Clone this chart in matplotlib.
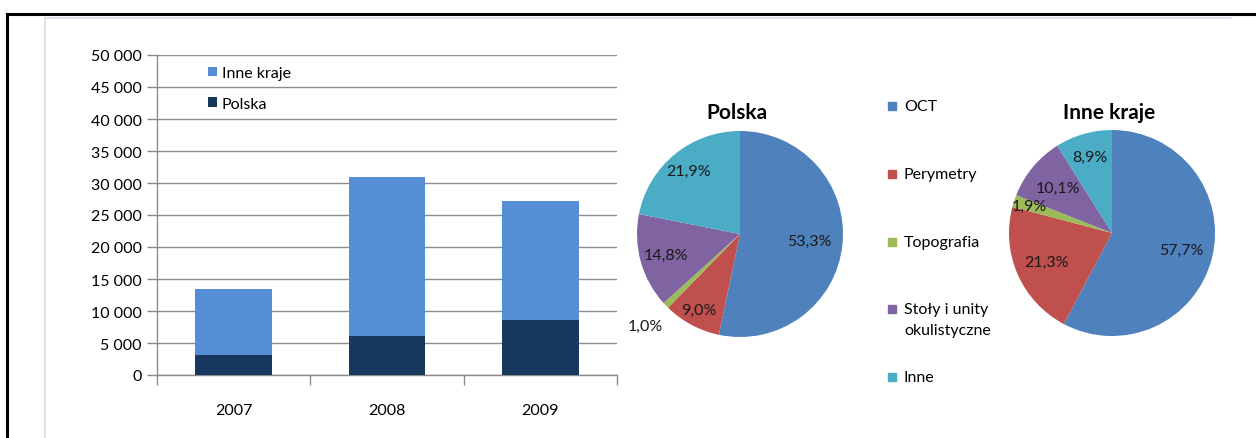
import matplotlib
matplotlib.use("Agg")
import matplotlib.pyplot as plt
from matplotlib.lines import Line2D
from matplotlib.ticker import FuncFormatter, FixedLocator
import numpy as np

plt.rcParams['font.family'] = ['Lato', 'DejaVu Sans']

# ---------------- data ----------------
years = ['2007', '2008', '2009']
polska = [3100, 6100, 8600]
inne_kraje = [10400, 24900, 18600]
bar_series_labels = ['Inne kraje', 'Polska']

pie_categories = ['OCT', 'Perymetry', 'Topografia', 'Stoły i unity\nokulistyczne', 'Inne']
pie_polska = [53.3, 9.0, 1.0, 14.8, 21.9]
pie_inne = [57.7, 21.3, 1.9, 10.1, 8.9]
pie_titles = ['Polska', 'Inne kraje']

# ---------------- style ----------------
W, H = 1256, 439
FS = 11.5
bar_colors = {'Polska': '#17375E', 'Inne kraje': '#558ED5'}
pie_colors = ['#4F81BD', '#C0504D', '#9BBB59', '#8064A2', '#4BACC6']
grid_col = '#8C8C8C'

fig = plt.figure(figsize=(W / 100, H / 100), dpi=100)

def fx(px):
    return px / W

def fy(py):
    return 1 - py / H

# frame lines
fig.add_artist(Line2D([fx(7), 1], [fy(15), fy(15)], color='black', lw=2.2))
fig.add_artist(Line2D([fx(7), fx(7)], [fy(15), 0], color='black', lw=2.2))
fig.add_artist(Line2D([fx(45), fx(1231)], [fy(18.5), fy(18.5)], color='#D5DCEA', lw=1.2))
fig.add_artist(Line2D([fx(45), fx(45)], [fy(18.5), 0], color='#D5DCEA', lw=1.2))

# ---------------- bar chart ----------------
axb = fig.add_axes([fx(157), fy(376), fx(617 - 157), (376 - 56) / H])
x = np.arange(len(years))
b1 = axb.bar(x, polska, width=0.5, color=bar_colors['Polska'], zorder=3, label='Polska')
b2 = axb.bar(x, inne_kraje, width=0.5, bottom=polska, color=bar_colors['Inne kraje'],
             zorder=3, label='Inne kraje')
axb.set_xlim(-0.5, 2.5)
axb.set_ylim(0, 50000)
axb.set_yticks(np.arange(0, 50001, 5000))
axb.yaxis.set_major_formatter(FuncFormatter(lambda v, p: f"{int(v):,}".replace(',', ' ')))
axb.yaxis.grid(True, color=grid_col, lw=1.0, zorder=0)
axb.set_xticks(x)
axb.set_xticklabels(years)
axb.xaxis.set_minor_locator(FixedLocator([-0.5, 0.5, 1.5, 2.5]))
axb.tick_params(axis='x', which='major', length=0, pad=20, labelsize=FS)
axb.tick_params(axis='x', which='minor', length=7, color=grid_col, width=1)
axb.tick_params(axis='y', length=7, color=grid_col, width=1, labelsize=FS, pad=4)
for s in ['top', 'right']:
    axb.spines[s].set_visible(False)
for s in ['left', 'bottom']:
    axb.spines[s].set_color(grid_col)
    axb.spines[s].set_linewidth(1.0)
axb.legend(handles=[b2, b1], labels=bar_series_labels, loc='upper left',
           bbox_to_anchor=(fx(200), fy(59)), bbox_transform=fig.transFigure,
           frameon=False, fontsize=FS, handlelength=0.55, handleheight=0.55,
           handletextpad=0.3, labelspacing=1.05, borderpad=0)

# ---------------- pies ----------------
label_dist = [
    [0.68, 0.84, 1.28, 0.75, 0.79],
    [0.69, 0.70, 0.84, 0.68, 0.77],
]
centers = [(740, 235), (1112, 234)]
R = 103
for k, (vals, title) in enumerate(zip([pie_polska, pie_inne], pie_titles)):
    cx, cy = centers[k]
    ax = fig.add_axes([fx(cx - R), fy(cy + R), fx(2 * R), 2 * R / H])
    wedges, texts, autotexts = ax.pie(vals, colors=pie_colors, startangle=90, counterclock=False,
                                      autopct=lambda p: '', wedgeprops=dict(linewidth=0),
                                      radius=1.0)
    ax.set_xlim(-1, 1)
    ax.set_ylim(-1, 1)
    ax.set_aspect('auto')
    ax.axis('off')
    for i, (w, v) in enumerate(zip(wedges, vals)):
        ang = np.deg2rad((w.theta1 + w.theta2) / 2)
        d = label_dist[k][i]
        ax.text(d * np.cos(ang), d * np.sin(ang), f"{v:.1f}%".replace('.', ','),
                ha='center', va='center', fontsize=FS, color='#1a1a1a', clip_on=False)
    fig.text(fx(cx - 3), fy(113), title, ha='center', va='center', fontsize=15,
             fontweight='bold', color='black')

# pie legend (shared)
leg_y = [107, 175, 243, 310, 378]
for cat, col, ly in zip(pie_categories, pie_colors, leg_y):
    fig.patches.append(plt.Rectangle((fx(888), fy(ly + 4)), fx(8), 8 / H, color=col,
                                     transform=fig.transFigure, figure=fig))
    if '\n' in cat:
        fig.text(fx(904), fy(ly - 7), cat, ha='left', va='top',
                 fontsize=FS, color='black', linespacing=1.65)
    else:
        fig.text(fx(904), fy(ly), cat, ha='left', va='center',
                 fontsize=FS, color='black')

fig.savefig('out.png', dpi=100)
